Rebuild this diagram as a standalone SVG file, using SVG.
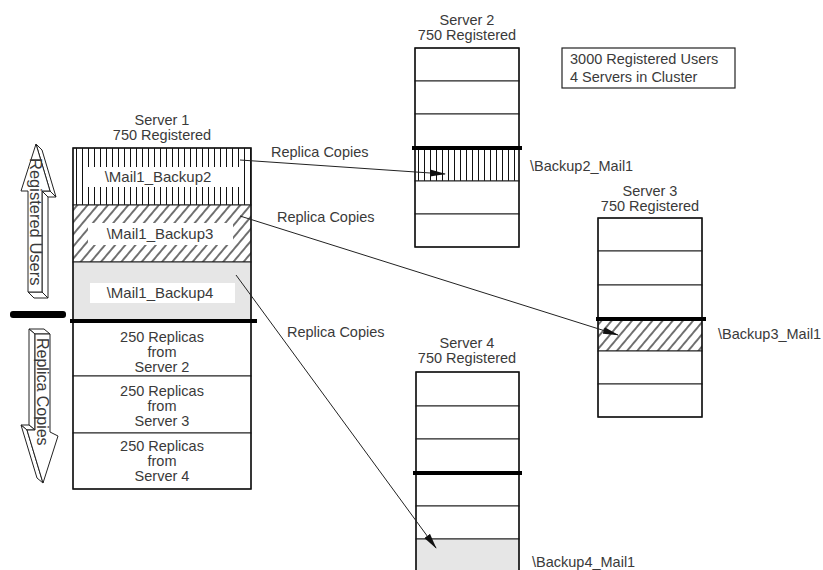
<svg xmlns="http://www.w3.org/2000/svg" width="823" height="570" viewBox="0 0 823 570">
<style>
text{font-family:"Liberation Sans",Arial,sans-serif;font-size:14.5px;fill:#3a3a3a;}
.m{text-anchor:middle;}
.lbl{font-size:15px;}
.row{fill:#fff;stroke:#222;stroke-width:1;}
.box{fill:none;stroke:#111;stroke-width:1.4;}
.thick{stroke:#000;stroke-width:4;}
.ar{fill:#fff;stroke:#222;stroke-width:1;stroke-linejoin:round;}
.con{stroke:#222;stroke-width:1;fill:none;marker-end:url(#ah);}
</style>
<defs>
<pattern id="vh" patternUnits="userSpaceOnUse" width="6" height="10" x="73">
<rect width="6" height="10" fill="#fff"/>
<line x1="3.5" y1="0" x2="3.5" y2="10" stroke="#111" stroke-width="1"/>
</pattern>
<pattern id="vh2" patternUnits="userSpaceOnUse" width="6" height="10" x="415">
<rect width="6" height="10" fill="#fff"/>
<line x1="3.5" y1="0" x2="3.5" y2="10" stroke="#111" stroke-width="1"/>
</pattern>
<pattern id="dh" patternUnits="userSpaceOnUse" width="7.8" height="10" patternTransform="rotate(40)">
<rect width="7.8" height="10" fill="#fff"/>
<line x1="3.9" y1="0" x2="3.9" y2="10" stroke="#000" stroke-width="1.1"/>
</pattern>
<marker id="ah" markerUnits="userSpaceOnUse" markerWidth="16" markerHeight="8" refX="15" refY="4" orient="auto">
<path d="M0,0.5 L16,4 L0,7.5 Z" fill="#111"/>
</marker>
</defs>

<g id="legend">
<rect x="562" y="48" width="173" height="40" fill="#fff" stroke="#222" stroke-width="1.2"/>
<text x="570" y="64">3000 Registered Users</text>
<text x="570" y="82">4 Servers in Cluster</text>
</g>

<g id="server1">
<text class="m" x="162" y="125">Server 1</text>
<text class="m" x="162" y="140">750 Registered</text>
<rect x="73" y="148" width="178" height="57" fill="url(#vh)" stroke="#222"/>
<rect x="88" y="167" width="152" height="20" fill="#fff"/>
<text class="m lbl" x="158" y="182">\Mail1_Backup2</text>
<rect x="73" y="205" width="178" height="57" fill="url(#dh)" stroke="#222"/>
<rect x="88" y="223" width="145" height="22" fill="#fff"/>
<text class="m lbl" x="160" y="239">\Mail1_Backup3</text>
<rect x="73" y="262" width="178" height="59" fill="#e6e6e6" stroke="#222"/>
<rect x="90" y="283" width="145" height="20" fill="#fff"/>
<text class="m lbl" x="160" y="298">\Mail1_Backup4</text>
<rect class="row" x="73" y="321" width="178" height="55"/>
<rect class="row" x="73" y="376" width="178" height="57"/>
<rect class="row" x="73" y="433" width="178" height="56"/>
<rect class="box" x="73" y="148" width="178" height="341"/>
<line class="thick" x1="70" y1="321" x2="257" y2="321" stroke-width="5"/>
<text class="m" x="162" y="342">250 Replicas</text>
<text class="m" x="162" y="357">from</text>
<text class="m" x="162" y="372">Server 2</text>
<text class="m" x="162" y="396">250 Replicas</text>
<text class="m" x="162" y="411">from</text>
<text class="m" x="162" y="426">Server 3</text>
<text class="m" x="162" y="451">250 Replicas</text>
<text class="m" x="162" y="466">from</text>
<text class="m" x="162" y="481">Server 4</text>
</g>

<g id="server2">
<text class="m" x="467" y="25">Server 2</text>
<text class="m" x="467" y="40">750 Registered</text>
<rect class="row" x="415" y="48" width="104" height="33"/>
<rect class="row" x="415" y="81" width="104" height="33"/>
<rect class="row" x="415" y="114" width="104" height="34"/>
<rect x="415" y="148" width="104" height="33" fill="url(#vh2)" stroke="#222"/>
<rect class="row" x="415" y="181" width="104" height="33"/>
<rect class="row" x="415" y="214" width="104" height="33"/>
<rect class="box" x="415" y="48" width="104" height="199"/>
<line class="thick" x1="412" y1="148" x2="522" y2="148"/>
<text x="530" y="171">\Backup2_Mail1</text>
</g>

<g id="server3">
<text class="m" x="650" y="196">Server 3</text>
<text class="m" x="650" y="211">750 Registered</text>
<rect class="row" x="598" y="218" width="104" height="33"/>
<rect class="row" x="598" y="251" width="104" height="34"/>
<rect class="row" x="598" y="285" width="104" height="34"/>
<rect x="598" y="319" width="104" height="32" fill="url(#dh)" stroke="#222"/>
<rect class="row" x="598" y="351" width="104" height="33"/>
<rect class="row" x="598" y="384" width="104" height="33"/>
<rect class="box" x="598" y="218" width="104" height="199"/>
<line class="thick" x1="596" y1="319" x2="706" y2="319"/>
<text x="718" y="339">\Backup3_Mail1</text>
</g>

<g id="server4">
<text class="m" x="467" y="348">Server 4</text>
<text class="m" x="467" y="363">750 Registered</text>
<rect class="row" x="416" y="372" width="103" height="34"/>
<rect class="row" x="416" y="406" width="103" height="33"/>
<rect class="row" x="416" y="439" width="103" height="34"/>
<rect class="row" x="416" y="473" width="103" height="33"/>
<rect class="row" x="416" y="506" width="103" height="33"/>
<rect x="416" y="539" width="103" height="40" fill="#e6e6e6" stroke="#222"/>
<rect class="box" x="416" y="372" width="103" height="207"/>
<line class="thick" x1="413" y1="473" x2="522" y2="473"/>
<text x="532" y="567">\Backup4_Mail1</text>
</g>

<g id="arrow-registered">
<polygon class="ar" points="36,144 50,191 56,197 42,150"/>
<polygon class="ar" points="42,191 50,191 56,197 48,197"/>
<polygon class="ar" points="42,191 42,292 48,298 48,197"/>
<polygon class="ar" points="28,292 42,292 48,298 34,298"/>
<polygon class="ar" points="36,144 50,191 42,191 42,292 28,292 28,191 21,191"/>
<text transform="translate(30,158) rotate(90)" style="font-size:16.5px">Registered Users</text>
</g>

<g id="arrow-replica">
<polygon class="ar" points="35,334 50,334 44,329 29,329"/>
<polygon class="ar" points="29,329 35,334 35,430 29,425"/>
<polygon class="ar" points="27,430 35,430 29,425 21,425"/>
<polygon class="ar" points="21,425 27,430 43,483 37,478"/>
<polygon class="ar" points="35,334 50,334 50,432 58,436 43,483 27,430 35,430"/>
<text transform="translate(37,338) rotate(90)" style="font-size:16px">Replica Copies</text>
</g>

<g id="bar">
<rect x="10" y="311" width="56" height="7" rx="3" fill="#000"/>
</g>

<g id="connectors">
<line class="con" x1="240" y1="160" x2="445" y2="174"/>
<text x="271" y="157">Replica Copies</text>
<line class="con" x1="240" y1="216" x2="618" y2="335"/>
<text x="277" y="222">Replica Copies</text>
<line class="con" x1="236" y1="275" x2="436" y2="548"/>
<text x="287" y="337">Replica Copies</text>
</g>
</svg>
